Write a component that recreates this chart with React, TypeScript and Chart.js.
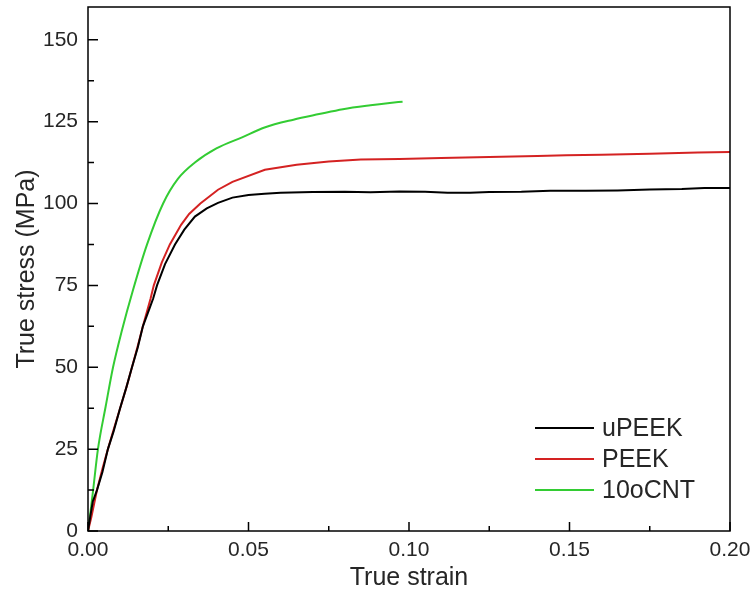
import React, { useEffect, useRef } from "react";
import { Chart, registerables } from "chart.js";

Chart.register(...registerables);

// ---- data ----
const uPeekStrain = [0, 0.0008, 0.0015, 0.0028, 0.0045, 0.0062, 0.008, 0.01, 0.012, 0.0137, 0.0155, 0.0171, 0.019, 0.0203, 0.0215, 0.024, 0.0271, 0.03, 0.0333, 0.037, 0.0405, 0.045, 0.05, 0.055, 0.06, 0.07, 0.08, 0.088, 0.097, 0.105, 0.112, 0.119, 0.125, 0.135, 0.144, 0.155, 0.165, 0.175, 0.185, 0.192, 0.2];
const uPeekStress = [0, 5, 9, 12.5, 18, 25, 30.5, 37.5, 44, 50, 56, 62.5, 67.5, 71, 75, 81.5, 87.5, 92, 96, 98.5, 100.2, 101.8, 102.6, 103.0, 103.3, 103.5, 103.6, 103.4, 103.7, 103.6, 103.3, 103.3, 103.5, 103.6, 103.9, 103.9, 104.0, 104.3, 104.4, 104.7, 104.7];

const peekStrain = [0, 0.001, 0.0028, 0.0045, 0.0062, 0.008, 0.01, 0.012, 0.0137, 0.0155, 0.0171, 0.0195, 0.0205, 0.023, 0.0255, 0.029, 0.0315, 0.035, 0.0405, 0.045, 0.0551, 0.065, 0.075, 0.085, 0.097, 0.11, 0.125, 0.14, 0.149, 0.16, 0.175, 0.19, 0.2];
const peekStress = [0, 4, 12.5, 19, 25, 31, 37.5, 44, 50, 56.5, 62.5, 71, 75, 82, 87.5, 93.5, 96.8, 100, 104.2, 106.6, 110.3, 111.8, 112.8, 113.4, 113.6, 113.9, 114.2, 114.5, 114.7, 114.9, 115.2, 115.6, 115.7];

const cntStrain = [0, 0.0008, 0.0016, 0.0031, 0.0055, 0.0078, 0.0105, 0.014, 0.0184, 0.0234, 0.028, 0.0333, 0.04, 0.048, 0.055, 0.064, 0.072, 0.0794, 0.088, 0.094, 0.098];
const cntStress = [0, 6, 12.5, 25, 38, 50, 61, 73.5, 87.5, 100, 107.5, 112.5, 116.8, 120.2, 123.2, 125.6, 127.3, 128.8, 130.0, 130.7, 131.1];

const seriesLabels = ["uPEEK", "PEEK", "10oCNT"];
const seriesColors = ["#000000", "#d42222", "#33cc33"];

const xTicks = [0, 0.05, 0.1, 0.15, 0.2];
const xMinorTicks = [0.025, 0.075, 0.125, 0.175];
const yTicks = [0, 25, 50, 75, 100, 125, 150];
const yMinorTicks = [12.5, 37.5, 62.5, 87.5, 112.5, 137.5];

const FONT = "'Liberation Sans', Arial, sans-serif";
const TEXT = "#262626";

const toPts = (xs: number[], ys: number[]) => xs.map((x, i) => ({ x, y: ys[i] }));

const framePlugin = {
  id: "frameTicks",
  afterDraw(chart: any) {
    const { ctx, chartArea: a, scales } = chart;
    const xs = scales.x;
    const ys = scales.y;
    ctx.save();
    ctx.strokeStyle = "#000";
    ctx.lineWidth = 1.5;
    ctx.strokeRect(a.left, a.top, a.right - a.left, a.bottom - a.top);
    ctx.beginPath();
    xTicks.forEach((v) => {
      const p = xs.getPixelForValue(v);
      ctx.moveTo(p, a.bottom);
      ctx.lineTo(p, a.bottom - 9);
    });
    xMinorTicks.forEach((v) => {
      const p = xs.getPixelForValue(v);
      ctx.moveTo(p, a.bottom);
      ctx.lineTo(p, a.bottom - 5);
    });
    yTicks.forEach((v) => {
      const p = ys.getPixelForValue(v);
      ctx.moveTo(a.left, p);
      ctx.lineTo(a.left + 10, p);
    });
    yMinorTicks.forEach((v) => {
      const p = ys.getPixelForValue(v);
      ctx.moveTo(a.left, p);
      ctx.lineTo(a.left + 6, p);
    });
    ctx.stroke();

    // legend
    const rowsY = [428, 459, 490];
    ctx.font = `25px ${FONT}`;
    ctx.textBaseline = "middle";
    ctx.textAlign = "left";
    chart.data.datasets.forEach((ds: any, i: number) => {
      const y = rowsY[i];
      ctx.strokeStyle = ds.borderColor;
      ctx.lineWidth = 2;
      ctx.beginPath();
      ctx.moveTo(535, y);
      ctx.lineTo(594, y);
      ctx.stroke();
      ctx.fillStyle = TEXT;
      ctx.fillText(ds.label, 602, y + 1);
    });
    ctx.restore();
  },
};

export default function App() {
  const ref = useRef<HTMLCanvasElement | null>(null);
  useEffect(() => {
    document.body.style.margin = "0";
    if (!ref.current) return;
    const datasets = [
      toPts(uPeekStrain, uPeekStress),
      toPts(peekStrain, peekStress),
      toPts(cntStrain, cntStress),
    ].map((d, i) => ({
      label: seriesLabels[i],
      data: d,
      borderColor: seriesColors[i],
      backgroundColor: seriesColors[i],
      borderWidth: 2,
      pointRadius: 0,
      tension: 0,
      cubicInterpolationMode: i === 2 ? ("monotone" as const) : ("default" as const),
      fill: false,
    }));
    const chart = new Chart(ref.current, {
      type: "line",
      data: { datasets },
      plugins: [framePlugin],
      options: {
        animation: false,
        responsive: false,
        layout: { padding: { top: 7, right: 24, left: 0, bottom: 0 } },
        plugins: { legend: { display: false }, tooltip: { enabled: false } },
        scales: {
          x: {
            type: "linear",
            min: 0,
            max: 0.2,
            afterBuildTicks: (s: any) => {
              s.ticks = xTicks.map((v) => ({ value: v }));
            },
            afterFit: (s: any) => {
              s.height = 63;
              s.paddingLeft = 0;
              s.paddingRight = 0;
              s.paddingTop = 0;
              s.paddingBottom = 0;
            },
            grid: { display: false, drawTicks: false },
            border: { display: false },
            ticks: {
              padding: 7,
              color: TEXT,
              font: { family: FONT, size: 21 },
              callback: (v: any) => Number(v).toFixed(2),
              maxRotation: 0,
            },
            title: {
              display: true,
              text: "True strain",
              color: TEXT,
              font: { family: FONT, size: 25 },
              padding: { top: 0, bottom: 1 },
            },
          },
          y: {
            type: "linear",
            min: 0,
            max: 160,
            afterBuildTicks: (s: any) => {
              s.ticks = yTicks.map((v) => ({ value: v }));
            },
            afterFit: (s: any) => {
              s.width = 88;
              s.paddingLeft = 0;
              s.paddingRight = 0;
              s.paddingTop = 0;
              s.paddingBottom = 0;
            },
            grid: { display: false, drawTicks: false },
            border: { display: false },
            ticks: {
              padding: 10,
              color: TEXT,
              font: { family: FONT, size: 21 },
            },
            title: {
              display: true,
              text: "True stress (MPa)",
              color: TEXT,
              font: { family: FONT, size: 25 },
              padding: { top: 12, bottom: 0 },
            },
          },
        },
      },
    });
    return () => chart.destroy();
  }, []);
  return <canvas ref={ref} width={754} height={594} style={{ display: "block" }} />;
}
